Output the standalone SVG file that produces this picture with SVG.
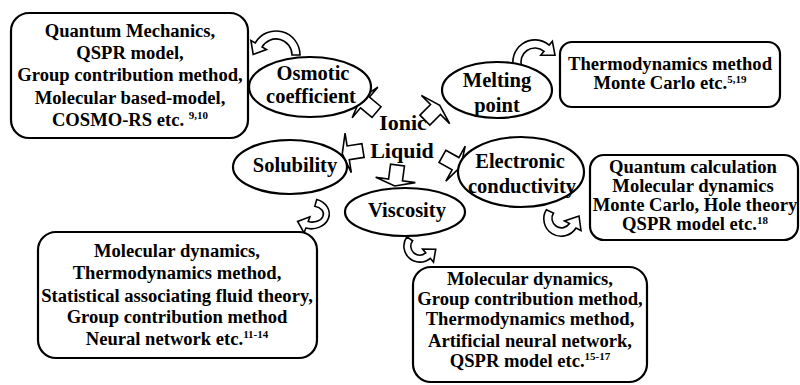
<svg xmlns="http://www.w3.org/2000/svg" xmlns:xlink="http://www.w3.org/1999/xlink" width="800" height="385" viewBox="0 0 800 385">
<style>
.box{fill:#fff;stroke:#000;stroke-width:2.2}
.ell{fill:#fff;stroke:#000;stroke-width:2.2}
.arr{fill:#fff;stroke:#000;stroke-width:1.6;stroke-linejoin:miter}
.t{font-family:'Liberation Serif','Times New Roman',serif;font-weight:700;text-anchor:middle;fill:#000}
.bt{font-size:18.6px}
.et{font-size:20.5px}
.it{font-size:22px}
.sup{font-size:11px}
</style>
<defs>
<path id="ba" d="M0,-7 H15 V-20 L21,0 L15,20 V7 H0 Z"/>
</defs>
<rect width="800" height="385" fill="#fff"/>
<g id="connectors">
<use xlink:href="#ba" class="arr" transform="translate(376.5,112.1) rotate(220)"/>
<use xlink:href="#ba" class="arr" transform="translate(424.9,120.1) rotate(-45)"/>
<use xlink:href="#ba" class="arr" transform="translate(442.4,156.4) rotate(29)"/>
<use xlink:href="#ba" class="arr" transform="translate(397.5,165.1) rotate(97.6)"/>
<use xlink:href="#ba" class="arr" transform="translate(363,150.5) rotate(171)"/>
<path class="arr" d="M300,55 A24,24 0 0 0 255.2,43 L250.9,40.5 L253.2,54.5 L266.5,49.5 L262.1,47 A16,16 0 0 1 292,55 Z"/>
<path class="arr" d="M514.3,69.5 A22,22 0 0 1 549.2,45.1 L552.4,41.3 L555,55.3 L540.8,55.1 L544,51.3 A14,14 0 0 0 521.8,66.8 Z"/>
<path class="arr" d="M316.7,199.5 A18,15 0 1 1 305.8,228.1 L304.1,232.8 L297.6,221.4 L309.9,216.8 L308.2,221.5 A11,8 0 1 0 314.8,206.3 Z"/>
<path class="arr" d="M406.9,236.8 A16,16 0 0 0 430.3,258.3 L433.5,262.1 L435.7,249.2 L422.6,249.1 L425.8,252.9 A9,9 0 0 1 412.6,240.8 Z"/>
<path class="arr" d="M546.4,209.7 A17,17 0 0 0 576,228 L581,230.5 L579,216 L564.5,221 L569.5,223.5 A9,9 0 0 1 553.5,213 Z"/>
</g>
<g id="ionic-liquid">
<text class="t it" x="403" y="130">Ionic</text>
<text class="t it" x="402" y="158">Liquid</text>
</g>
<g id="osmotic">
<ellipse class="ell" cx="310" cy="87" rx="61" ry="30"/>
<text class="t et" x="313" y="80">Osmotic</text>
<text class="t et" x="311" y="103">coefficient</text>
</g>
<g id="melting">
<ellipse class="ell" cx="497" cy="90" rx="55" ry="28"/>
<text class="t et" x="497" y="87">Melting</text>
<text class="t et" x="497" y="112">point</text>
</g>
<g id="solubility">
<ellipse class="ell" cx="290" cy="167" rx="57" ry="27"/>
<text class="t et" x="295" y="172">Solubility</text>
</g>
<g id="viscosity">
<ellipse class="ell" cx="405" cy="212" rx="60" ry="24"/>
<text class="t et" x="407" y="217">Viscosity</text>
</g>
<g id="electronic">
<ellipse class="ell" cx="521" cy="172" rx="63" ry="35"/>
<text class="t et" x="520" y="168">Electronic</text>
<text class="t et" x="522" y="193">conductivity</text>
</g>
<g id="box-osmotic">
<rect class="box" x="11" y="13" width="237" height="125" rx="18"/>
<text class="t bt" x="130" y="37">Quantum Mechanics,</text>
<text class="t bt" x="130" y="59">QSPR model,</text>
<text class="t bt" x="130" y="81">Group contribution method,</text>
<text class="t bt" x="130" y="103.5">Molecular based-model,</text>
<text class="t bt" x="130" y="126">COSMO-RS etc. <tspan class="sup" dy="-7">9,10</tspan></text>
</g>
<g id="box-melting">
<rect class="box" x="560" y="42" width="220" height="65" rx="12"/>
<text class="t bt" x="670" y="70">Thermodynamics method</text>
<text class="t bt" x="670" y="89">Monte Carlo etc.<tspan class="sup" dy="-6">5,19</tspan></text>
</g>
<g id="box-electronic">
<rect class="box" x="590" y="155" width="208" height="85" rx="14"/>
<text class="t bt" x="693" y="173">Quantum calculation</text>
<text class="t bt" x="693" y="192">Molecular dynamics</text>
<text class="t bt" x="695" y="211">Monte Carlo, Hole theory</text>
<text class="t bt" x="695" y="230">QSPR model etc.<tspan class="sup" dy="-6">18</tspan></text>
</g>
<g id="box-solubility">
<rect class="box" x="38" y="232" width="279" height="126" rx="18"/>
<text class="t bt" x="177" y="257">Molecular dynamics,</text>
<text class="t bt" x="177" y="279">Thermodynamics method,</text>
<text class="t bt" x="177" y="301.5">Statistical associating fluid theory,</text>
<text class="t bt" x="177" y="323">Group contribution method</text>
<text class="t bt" x="177" y="345">Neural network etc.<tspan class="sup" dy="-7">11-14</tspan></text>
</g>
<g id="box-viscosity">
<rect class="box" x="413" y="267" width="234" height="115" rx="18"/>
<text class="t bt" x="530" y="285">Molecular dynamics,</text>
<text class="t bt" x="530" y="305">Group contribution method,</text>
<text class="t bt" x="530" y="325">Thermodynamics method,</text>
<text class="t bt" x="530" y="346.5">Artificial neural network,</text>
<text class="t bt" x="530" y="367">QSPR model etc.<tspan class="sup" dy="-7">15-17</tspan></text>
</g>
</svg>
